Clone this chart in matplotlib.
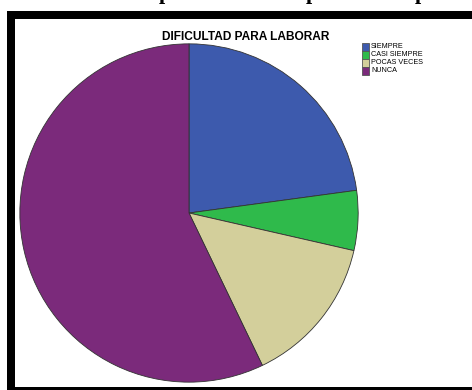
import matplotlib
matplotlib.use("Agg")
import matplotlib.pyplot as plt
from matplotlib.patches import Rectangle

# datos
categorias = ["SIEMPRE", "CASI SIEMPRE", "POCAS VECES", "NUNCA"]
frecuencias = [16, 4, 10, 40]
colores = ["#3d5aad", "#2fba4b", "#d3cf9b", "#7b2a7b"]
titulo = "DIFICULTAD PARA LABORAR"

W, H = 472, 390
fig = plt.figure(figsize=(W / 100, H / 100), dpi=100)
fig.patch.set_facecolor("white")

def px(x, y):
    # pixeles (desde arriba) -> fraccion de figura
    return x / W, 1 - y / H

# marco negro (izquierda, arriba, abajo)
fig.patches.append(Rectangle((7 / W, 0), 8 / W, 1 - 11 / H, transform=fig.transFigure,
                             facecolor="black", edgecolor="none"))
fig.patches.append(Rectangle((7 / W, 1 - 19 / H), 1, 8 / H, transform=fig.transFigure,
                             facecolor="black", edgecolor="none"))
fig.patches.append(Rectangle((7 / W, 0), 1, 3.5 / H, transform=fig.transFigure,
                             facecolor="black", edgecolor="none"))

# restos del encabezado cortado arriba
for xp in [165, 312, 421]:
    fig.text(xp / W, 1 + 1.5 / H, "p", family="Liberation Serif", weight="bold",
             fontsize=16, ha="center", va="baseline")

# pastel
cx, cy, r = 189, 213, 170
x0, y0 = px(cx - r, cy + r)
ax = fig.add_axes([x0, y0, 2 * r / W, 2 * r / H])
ax.pie(frecuencias, colors=colores, startangle=90, counterclock=False, radius=1,
       wedgeprops=dict(edgecolor="#333333", linewidth=0.6))
ax.set_xlim(-1.005, 1.005)
ax.set_ylim(-1.005, 1.005)
ax.set_aspect("auto")
ax.axis("off")

fig.text(*px(246, 37), titulo, family="Liberation Sans", weight="bold",
         fontsize=8.6, ha="center", va="center")

# leyenda
for i, (lab, col) in enumerate(zip(categorias, colores)):
    ly = 47 + i * 8
    fig.patches.append(Rectangle(px(362, ly + 3.5), 7 / W, 7 / H, transform=fig.transFigure,
                                 facecolor=col, edgecolor="#555555", linewidth=0.6))
    fig.text(*px(371, ly), lab, family="Liberation Sans", fontsize=5.2,
             ha="left", va="center")

fig.savefig("out.png", dpi=100)
